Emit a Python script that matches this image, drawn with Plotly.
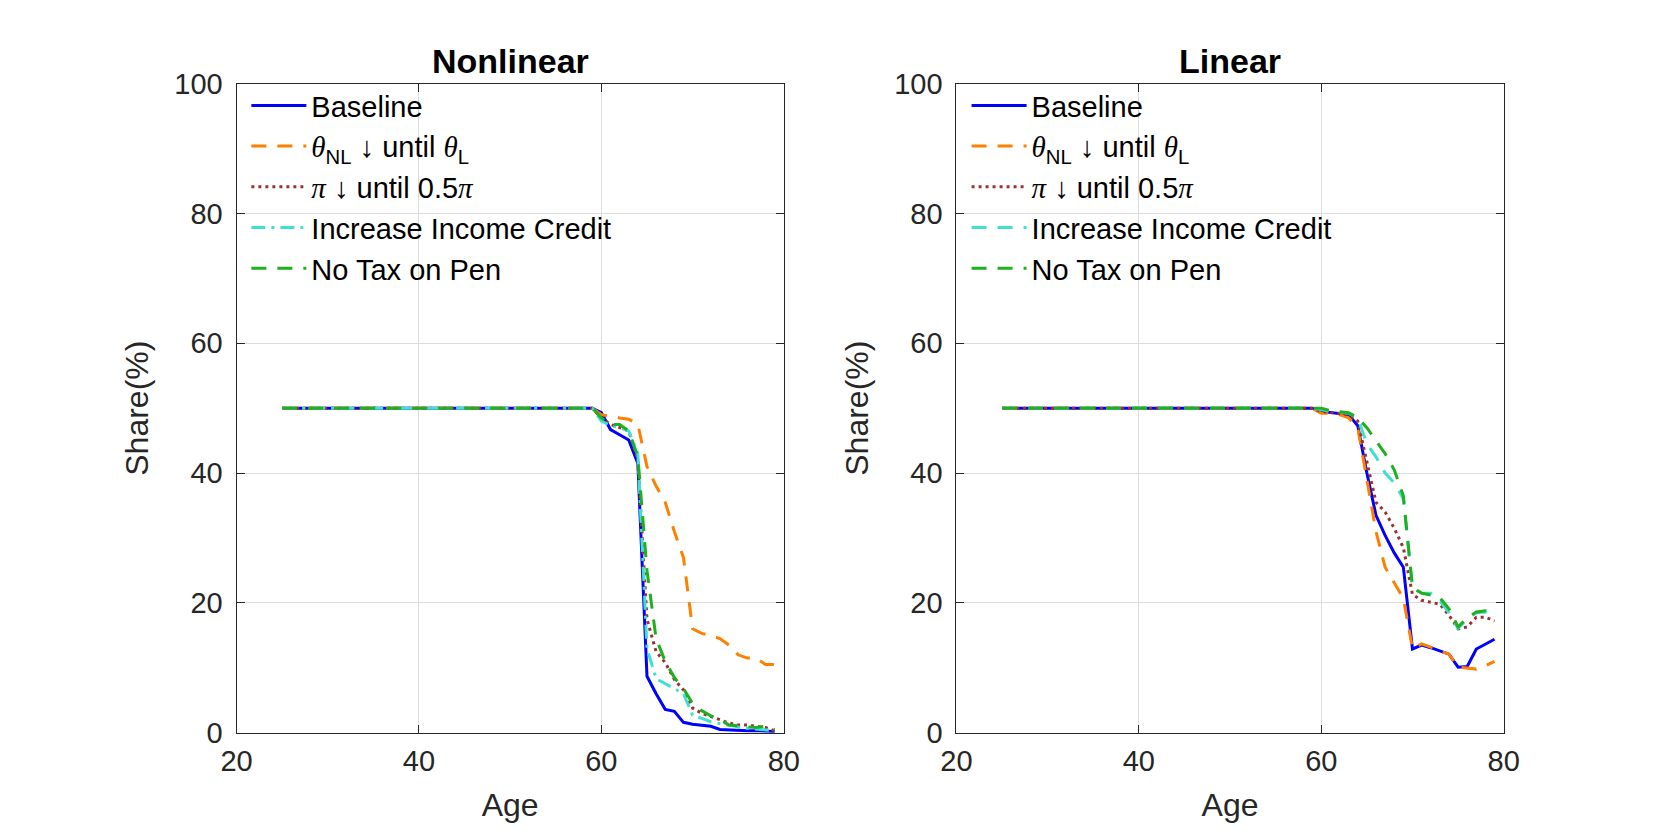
import plotly.graph_objects as go

# ---------------- data ----------------
ages = list(range(25, 80))
flat = [50.0] * 35  # ages 25..59

# Nonlinear panel, ages 60..79
nl_baseline = [49.3, 46.7, 45.9, 45.1, 41.5, 8.7, 6.0, 3.6, 3.3, 1.6, 1.3, 1.2, 1.0, 0.5, 0.4, 0.3, 0.3, 0.3, 0.3, 0.2]
nl_theta    = [49.0, 48.7, 48.5, 48.3, 47.5, 41.0, 38.0, 35.5, 31.0, 27.0, 16.0, 15.3, 15.0, 14.5, 13.5, 12.0, 11.5, 11.5, 10.5, 10.5]
nl_pi       = [48.5, 47.5, 47.0, 46.5, 42.0, 17.5, 12.5, 10.8, 8.2, 6.6, 3.8, 3.0, 2.5, 2.0, 1.5, 1.2, 1.2, 1.0, 0.8, 0.3]
nl_credit   = [48.0, 47.3, 47.0, 46.5, 43.0, 13.0, 8.3, 7.6, 6.8, 6.0, 2.7, 2.2, 1.7, 1.4, 1.1, 0.9, 0.7, 0.6, 0.5, 0.3]
nl_notax    = [48.5, 47.5, 47.5, 46.5, 42.5, 25.0, 14.5, 11.0, 8.5, 6.8, 4.5, 3.4, 2.6, 2.0, 1.2, 1.0, 0.9, 0.8, 1.0, 0.5]

# Linear panel, ages 60..79
l_baseline = [49.5, 49.3, 49.2, 49.0, 47.3, 40.0, 33.5, 30.4, 27.7, 25.5, 12.9, 13.5, 13.1, 12.6, 12.1, 10.1, 10.2, 12.9, 13.6, 14.4]
l_theta    = [49.2, 49.2, 49.0, 48.5, 47.0, 39.0, 31.0, 25.5, 23.0, 20.7, 13.0, 13.7, 13.2, 12.6, 12.1, 10.1, 10.0, 9.8, 10.3, 11.0]
l_pi       = [49.5, 49.3, 49.2, 49.0, 48.0, 42.0, 35.5, 34.0, 31.5, 28.5, 21.3, 20.4, 20.1, 19.8, 18.1, 16.0, 16.3, 17.8, 17.8, 17.2]
l_credit   = [49.8, 49.5, 49.4, 49.2, 48.5, 44.5, 42.5, 40.0, 38.5, 36.0, 22.5, 21.5, 21.5, 20.3, 18.5, 16.1, 17.5, 18.5, 18.6, 18.0]
l_notax    = [50.0, 49.6, 49.5, 49.3, 48.5, 47.0, 45.0, 43.0, 40.5, 36.5, 22.3, 21.5, 21.2, 20.8, 19.1, 16.3, 17.7, 18.6, 18.8, 18.0]

SERIF = "font-family:'Liberation Serif','DejaVu Serif',serif"
th = f"<span style=\"{SERIF}\"><i>θ</i></span>"
pi = f"<span style=\"{SERIF}\"><i>π</i></span>"
names = ["Baseline",
         f"{th}<sub>NL</sub> ↓ until {th}<sub>L</sub>",
         f"{pi} ↓ until 0.5{pi}",
         "Increase Income Credit",
         "No Tax on Pen"]
colors = ["#0000FF", "#FF8000", "#993333", "#40E0D0", "#1FB01F"]
dash_nl = ["solid", "15px,11px", "3px,4px", "14px,6px,3px,6px", "15px,11px"]
dash_l = ["solid", "15px,11px", "3px,4px", "15px,11px", "15px,11px"]

panels = [
    ("x", "y", "legend", [nl_baseline, nl_theta, nl_pi, nl_credit, nl_notax], dash_nl),
    ("x2", "y2", "legend2", [l_baseline, l_theta, l_pi, l_credit, l_notax], dash_l),
]

FONT = "Liberation Sans, Arial, Helvetica, sans-serif"
fig = go.Figure()
for xa, ya, lg, series, dashes in panels:
    for name, col, dsh, vals in zip(names, colors, dashes, series):
        fig.add_trace(go.Scatter(
            x=ages, y=flat + vals, mode="lines", name=name,
            line=dict(color=col, width=3, dash=dsh),
            xaxis=xa, yaxis=ya, legend=lg, showlegend=True))

axis_common = dict(
    showline=True, linecolor="#262626", linewidth=1, mirror="ticks",
    ticks="inside", ticklen=8, tickcolor="#262626",
    showgrid=True, gridcolor="#DCDCDC", gridwidth=1, zeroline=False,
    tickfont=dict(size=29, color="#262626", family=FONT),
)

xd1 = [0.13, 0.4647]
xd2 = [0.5703, 0.905]
yd = [0.1152, 0.9256]

xtitle = dict(text="Age", font=dict(size=32, color="#262626"), standoff=18)
ytitle = dict(text="Share(%)", font=dict(size=32, color="#262626"), standoff=16)
legend_common = dict(y=0.93, xanchor="left", yanchor="top", bgcolor="rgba(0,0,0,0)",
                     font=dict(size=29, color="black", family=FONT), itemwidth=55,
                     tracegroupgap=0)

fig.update_layout(
    width=1667, height=833,
    margin=dict(l=0, r=0, t=0, b=0),
    paper_bgcolor="white", plot_bgcolor="white",
    font=dict(family=FONT, color="#262626"),
    xaxis=dict(domain=xd1, range=[20, 80], tickvals=[20, 40, 60, 80], anchor="y",
               title=xtitle, ticklabelstandoff=2, **axis_common),
    yaxis=dict(domain=yd, range=[0, 100], tickvals=[0, 20, 40, 60, 80, 100], anchor="x",
               title=ytitle, ticklabelstandoff=7, **axis_common),
    xaxis2=dict(domain=xd2, range=[20, 80], tickvals=[20, 40, 60, 80], anchor="y2",
                title=xtitle, ticklabelstandoff=2, **axis_common),
    yaxis2=dict(domain=yd, range=[0, 100], tickvals=[0, 20, 40, 60, 80, 100], anchor="x2",
                title=ytitle, ticklabelstandoff=7, **axis_common),
    legend=dict(x=0.136, **legend_common),
    legend2=dict(x=0.5765, **legend_common),
    annotations=[
        dict(text="<b>Nonlinear</b>", x=sum(xd1) / 2, y=yd[1], xref="paper", yref="paper",
             xanchor="center", yanchor="bottom", yshift=2, showarrow=False,
             font=dict(size=34, color="black", family=FONT)),
        dict(text="<b>Linear</b>", x=sum(xd2) / 2, y=yd[1], xref="paper", yref="paper",
             xanchor="center", yanchor="bottom", yshift=2, showarrow=False,
             font=dict(size=34, color="black", family=FONT)),
    ],
)

fig.write_html("out.html")
